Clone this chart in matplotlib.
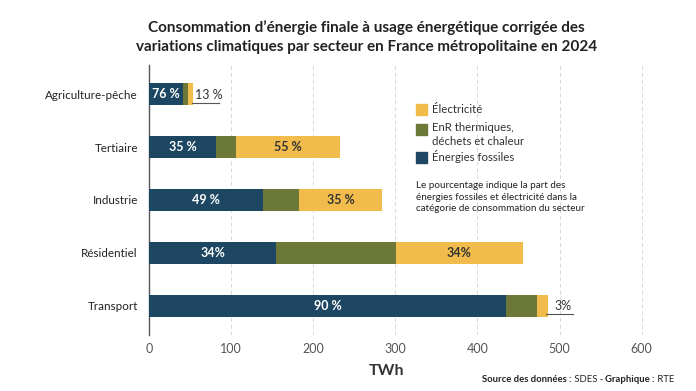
import matplotlib.pyplot as plt
import numpy as np

plt.rcParams['font.family'] = ['Lato', 'DejaVu Sans']

# data (TWh)
secteurs = ["Agriculture-pêche", "Tertiaire", "Industrie", "Résidentiel", "Transport"]
fossiles = [41.5, 82, 139, 155, 435]
enr = [5.5, 24, 44, 146, 38]
electricite = [7, 127, 100.5, 154, 12.5]
lab_fossiles = ["76 %", "35 %", "49 %", "34%", "90 %"]
lab_elec = ["13 %", "55 %", "35 %", "34%", "3%"]
ticks = [0, 100, 200, 300, 400, 500, 600]

c_fos = "#1c4661"
c_enr = "#6c7837"
c_ele = "#f2bc4c"

fig = plt.figure(figsize=(6.96, 3.91), dpi=100)
ax = fig.add_axes([0.214, 0.143, 0.767, 0.691])

y = np.arange(len(secteurs))[::-1]
fos = np.array(fossiles)
en = np.array(enr)
el = np.array(electricite)
h = 0.4
ax.barh(y, fos, height=h, color=c_fos, zorder=3)
ax.barh(y, en, left=fos, height=h, color=c_enr, zorder=3)
ax.barh(y, el, left=fos + en, height=h, color=c_ele, zorder=3)

for i in range(len(secteurs)):
    ax.text(fos[i] / 2, y[i], lab_fossiles[i], color="white", ha="center", va="center",
            fontsize=9, fontweight="bold", zorder=4)
    tot = fos[i] + en[i] + el[i]
    if el[i] > 30:
        ax.text(fos[i] + en[i] + el[i] / 2, y[i], lab_elec[i], color="#333333", ha="center",
                va="center", fontsize=9, fontweight="bold", zorder=4)
    else:
        # small segment: label outside with a leader line
        ax.plot([tot - 2, tot + 31], [y[i] - 0.16, y[i] - 0.16], color="#555555", lw=0.8, zorder=4)
        ax.text(tot + 19, y[i] - 0.01, lab_elec[i], color="#333333", ha="center", va="center",
                fontsize=9, zorder=4)

ax.set_xlim(0, 650)
ax.set_ylim(-0.55, 4.55)
ax.set_yticks(y)
ax.set_yticklabels(secteurs, fontsize=8.4, color="#222222")
ax.set_xticks(ticks)
ax.set_xticklabels([str(t) for t in ticks], fontsize=9, color="#555555")
ax.tick_params(axis="y", length=0, pad=8)
ax.tick_params(axis="x", length=0, pad=6)
for s in ["top", "right", "bottom"]:
    ax.spines[s].set_visible(False)
ax.spines["left"].set_color("#555555")
ax.spines["left"].set_linewidth(1.0)
ax.grid(axis="x", color="#d8d8d8", linestyle=(0, (4, 3)), lw=0.7, zorder=0)
ax.set_axisbelow(True)

# legend
leg_items = [(c_ele, "Électricité", 0.719), (c_enr, "EnR thermiques,\ndéchets et chaleur", 0.670),
             (c_fos, "Énergies fossiles", 0.598)]
for col, txt, yy in leg_items:
    fig.patches.append(plt.Rectangle((0.597, yy - 0.014), 0.016, 0.028, transform=fig.transFigure,
                                     color=col))
    if "\n" in txt:
        fig.text(0.621, yy + 0.018, txt, fontsize=8.2, color="#333333", va="top", linespacing=1.3)
    else:
        fig.text(0.621, yy + 0.002, txt, fontsize=8.2, color="#333333", va="center")
fig.text(0.598, 0.496, "Le pourcentage indique la part des\nénergies fossiles et électricité dans la\n"
         "catégorie de consommation du secteur", fontsize=7.1, color="#222222", va="center",
         linespacing=1.3)

fig.text(0.527, 0.905, "Consommation d’énergie finale à usage énergétique corrigée des\n"
         "variations climatiques par secteur en France métropolitaine en 2024",
         ha="center", va="center", fontsize=11, fontweight="bold", color="#222222", linespacing=1.45)
fig.text(0.556, 0.05, "TWh", ha="center", va="center", fontsize=11.5, fontweight="bold", color="#333333")

# source line, mixed weights
src = [("Source des données :", "bold"), (" SDES - ", "normal"), ("Graphique :", "bold"), (" RTE", "normal")]
fig.canvas.draw()
r = fig.canvas.get_renderer()
xpos = 0.693
for txt, w in src:
    t = fig.text(xpos, 0.03, txt, ha="left", va="center", fontsize=6.8, fontweight=w, color="#222222")
    bb = t.get_window_extent(renderer=r)
    xpos += bb.width / fig.bbox.width

fig.savefig("out.png", dpi=100, facecolor="white")
